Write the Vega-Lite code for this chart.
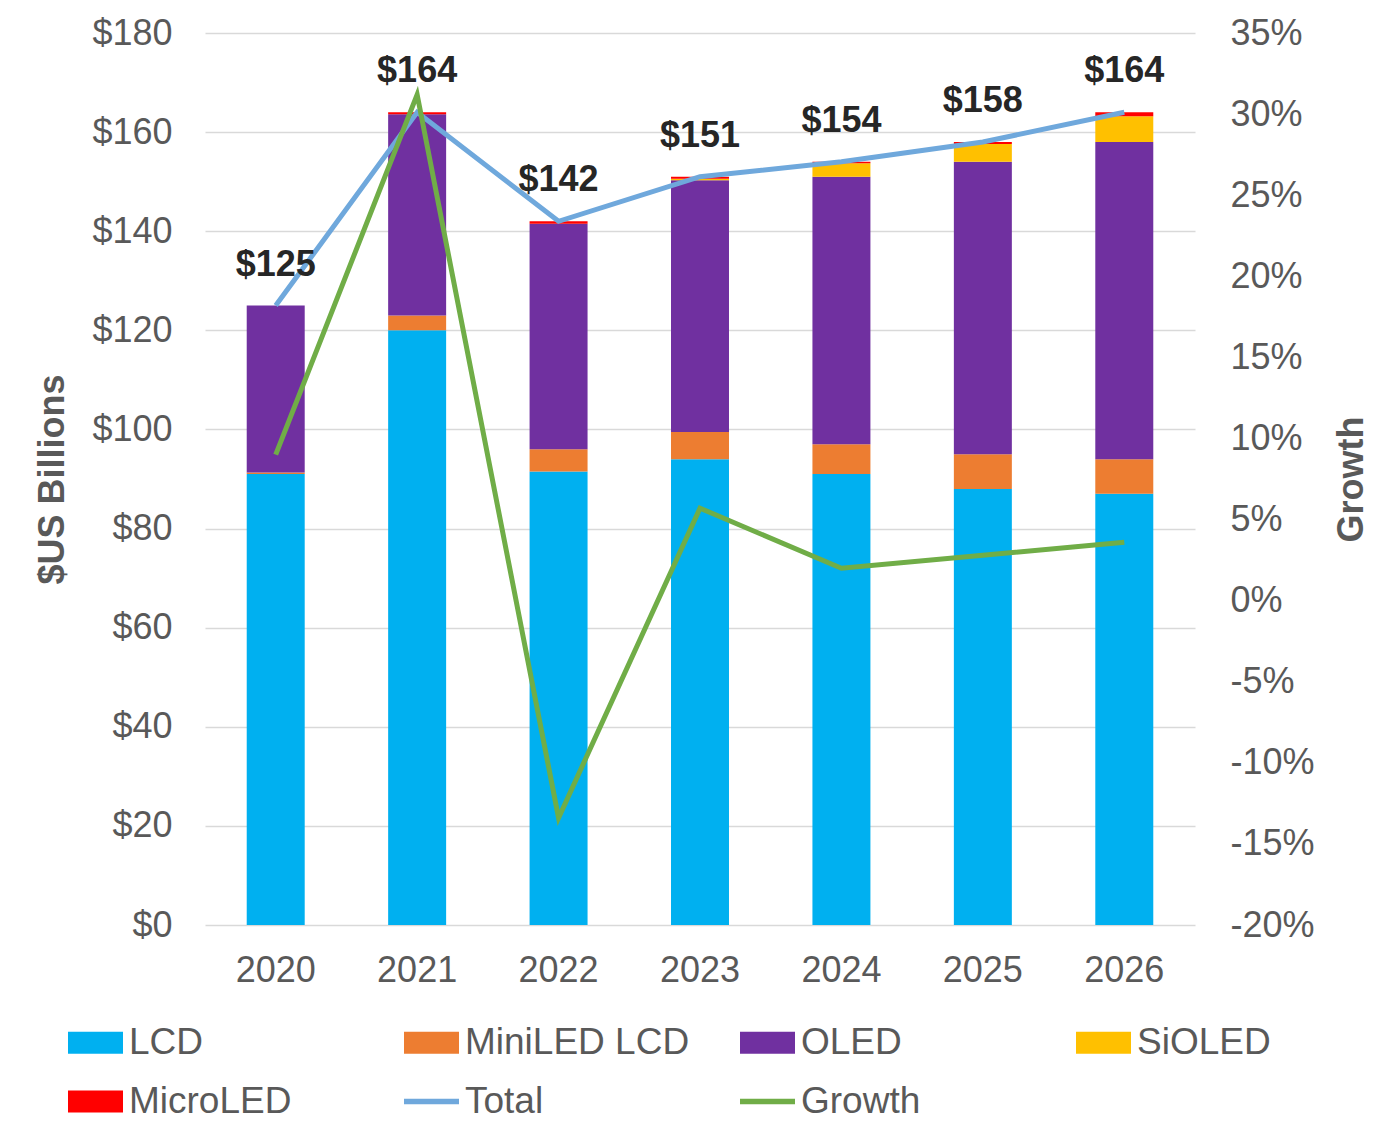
{
  "$schema": "https://vega.github.io/schema/vega-lite/v6.json",
  "autosize": {"type": "none"},
  "width": 990,
  "height": 892,
  "padding": {"left": 205, "top": 33, "right": 205, "bottom": 215},
  "background": "white",
  "datasets": {
    "bars": [
      {"year": "2020", "series": "LCD", "value": 91},
      {"year": "2020", "series": "MiniLED LCD", "value": 0.3},
      {"year": "2020", "series": "OLED", "value": 33.7},
      {"year": "2020", "series": "SiOLED", "value": 0},
      {"year": "2020", "series": "MicroLED", "value": 0},
      {"year": "2021", "series": "LCD", "value": 120},
      {"year": "2021", "series": "MiniLED LCD", "value": 3},
      {"year": "2021", "series": "OLED", "value": 40.6},
      {"year": "2021", "series": "SiOLED", "value": 0},
      {"year": "2021", "series": "MicroLED", "value": 0.4},
      {"year": "2022", "series": "LCD", "value": 91.5},
      {"year": "2022", "series": "MiniLED LCD", "value": 4.5},
      {"year": "2022", "series": "OLED", "value": 45.5},
      {"year": "2022", "series": "SiOLED", "value": 0},
      {"year": "2022", "series": "MicroLED", "value": 0.5},
      {"year": "2023", "series": "LCD", "value": 94},
      {"year": "2023", "series": "MiniLED LCD", "value": 5.5},
      {"year": "2023", "series": "OLED", "value": 50.8},
      {"year": "2023", "series": "SiOLED", "value": 0.3},
      {"year": "2023", "series": "MicroLED", "value": 0.4},
      {"year": "2024", "series": "LCD", "value": 91},
      {"year": "2024", "series": "MiniLED LCD", "value": 6},
      {"year": "2024", "series": "OLED", "value": 54},
      {"year": "2024", "series": "SiOLED", "value": 2.7},
      {"year": "2024", "series": "MicroLED", "value": 0.3},
      {"year": "2025", "series": "LCD", "value": 88},
      {"year": "2025", "series": "MiniLED LCD", "value": 7},
      {"year": "2025", "series": "OLED", "value": 59},
      {"year": "2025", "series": "SiOLED", "value": 3.6},
      {"year": "2025", "series": "MicroLED", "value": 0.4},
      {"year": "2026", "series": "LCD", "value": 87},
      {"year": "2026", "series": "MiniLED LCD", "value": 7},
      {"year": "2026", "series": "OLED", "value": 64},
      {"year": "2026", "series": "SiOLED", "value": 5.2},
      {"year": "2026", "series": "MicroLED", "value": 0.8}
    ],
    "totals": [
      {"year": "2020", "total": 125, "growth": 0.09},
      {"year": "2021", "total": 164, "growth": 0.312},
      {"year": "2022", "total": 142, "growth": -0.134},
      {"year": "2023", "total": 151, "growth": 0.057},
      {"year": "2024", "total": 154, "growth": 0.02},
      {"year": "2025", "total": 158, "growth": 0.028},
      {"year": "2026", "total": 164, "growth": 0.036}
    ]
  },
  "encoding": {
    "x": {
      "field": "year",
      "type": "ordinal",
      "title": null,
      "scale": {"paddingInner": 0.59, "paddingOuter": 0.295},
      "axis": {
        "domain": false,
        "ticks": false,
        "labelAngle": 0,
        "labelFontSize": 36,
        "labelColor": "#595959",
        "labelPadding": 28
      }
    }
  },
  "layer": [
    {
      "layer": [
        {
          "data": {"name": "bars"},
          "transform": [
            {"calculate": "indexof(['LCD','MiniLED LCD','OLED','SiOLED','MicroLED'], datum.series)", "as": "ord"}
          ],
          "mark": {"type": "bar"},
          "encoding": {
            "y": {
              "field": "value",
              "type": "quantitative",
              "stack": "zero",
              "title": "$US Billions",
              "scale": {"domain": [0, 180], "nice": false},
              "axis": {
                "values": [0, 20, 40, 60, 80, 100, 120, 140, 160, 180],
                "format": "$.0f",
                "domain": false,
                "ticks": false,
                "labelFontSize": 36,
                "labelColor": "#595959",
                "labelPadding": 33,
                "gridColor": "#d9d9d9",
                "gridWidth": 1.5,
                "titleFontSize": 36,
                "titleFontWeight": "bold",
                "titleColor": "#595959",
                "titlePadding": 20
              }
            },
            "color": {
              "field": "series",
              "type": "nominal",
              "scale": {
                "domain": ["LCD", "MiniLED LCD", "OLED", "SiOLED", "MicroLED", "Total", "Growth"],
                "range": ["#00B0F0", "#ED7D31", "#7030A0", "#FFC000", "#FF0000", "#6FA8DC", "#70AD47"]
              },
              "legend": {
                "title": null,
                "orient": "none",
                "legendX": -137,
                "legendY": 982,
                "direction": "horizontal",
                "columns": 4,
                "gridAlign": "all",
                "columnPadding": 50,
                "rowPadding": 13,
                "symbolSize": 3025,
                "labelFontSize": 37,
                "labelColor": "#595959",
                "labelOffset": 6,
                "labelLimit": 400,
                "encode": {
                  "symbols": {
                    "update": {
                      "shape": {"signal": "indexof(['Total','Growth'], datum.value) >= 0 ? 'M-1,-0.1H1V0.1H-1Z' : 'M-1,-0.4H1V0.4H-1Z'"},
                      "fill": {"scale": "color", "field": "value"},
                      "strokeWidth": {"value": 0},
                      "opacity": {"value": 1}
                    }
                  }
                }
              }
            },
            "order": {"field": "ord", "type": "quantitative"}
          }
        },
        {
          "data": {"name": "totals"},
          "mark": {"type": "line", "strokeWidth": 5},
          "encoding": {
            "y": {"field": "total", "type": "quantitative"},
            "color": {"datum": "Total"}
          }
        },
        {
          "data": {"name": "totals"},
          "mark": {"type": "text", "fontSize": 36, "fontWeight": "bold", "color": "#262626", "baseline": "alphabetic", "dy": -30},
          "encoding": {
            "y": {"field": "total", "type": "quantitative"},
            "text": {"field": "total", "type": "quantitative", "format": "$.0f"}
          }
        }
      ]
    },
    {
      "data": {"name": "totals"},
      "mark": {"type": "line", "strokeWidth": 5},
      "encoding": {
        "y": {
          "field": "growth",
          "type": "quantitative",
          "title": "Growth",
          "scale": {"domain": [-0.2, 0.35], "nice": false},
          "axis": {
            "orient": "right",
            "values": [-0.2, -0.15, -0.1, -0.05, 0, 0.05, 0.1, 0.15, 0.2, 0.25, 0.3, 0.35],
            "labelExpr": "replace(format(datum.value, '.0%'), '\u2212', '-')",
            "grid": false,
            "domain": false,
            "ticks": false,
            "labelFontSize": 36,
            "labelColor": "#595959",
            "labelPadding": 35,
            "titleFontSize": 36,
            "titleFontWeight": "bold",
            "titleColor": "#595959",
            "titleAngle": 270,
            "titleBaseline": "top",
            "titlePadding": 20
          }
        },
        "color": {"datum": "Growth"}
      }
    }
  ],
  "resolve": {"scale": {"y": "independent"}},
  "config": {
    "font": "Liberation Sans",
    "view": {"stroke": null}
  }
}
